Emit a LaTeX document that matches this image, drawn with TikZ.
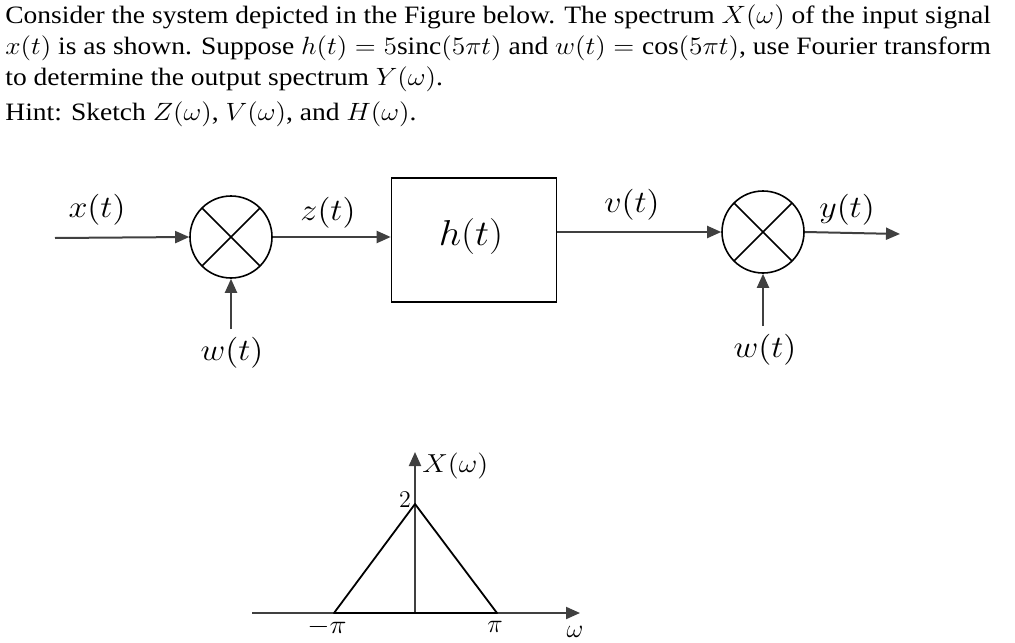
\RequirePackage{fix-cm}
\documentclass[tikz,border=0pt]{standalone}
\usepackage{fontspec}
\setmainfont{Liberation Serif}
\newfontfamily\questfont{Liberation Serif}
\usetikzlibrary{arrows.meta,positioning}
\newcommand{\widen}[1]{\scalebox{1.1}[1]{#1}}

\begin{document}
\begin{tikzpicture}[x=0.5pt,y=-0.5pt,
  sig/.style={draw=black!75,line width=1pt,-{Triangle[length=7pt,width=6pt]}},
  mult/.style={circle,draw,line width=0.8pt,minimum size=41pt,inner sep=0pt,
    path picture={\draw[line width=0.8pt] (path picture bounding box.north west) -- (path picture bounding box.south east)
      (path picture bounding box.north east) -- (path picture bounding box.south west);}},
  lbl/.style={inner sep=1pt,font=\fontsize{15.5}{17}\selectfont},
  qline/.style={anchor=base west,inner sep=0pt,font=\questfont\fontsize{12.5}{15}\selectfont}]

\useasboundingbox (0,0) rectangle (1015,642);

% question text
\node[qline] (q1) at (5,24) {\widen{Consider the system depicted in the Figure below. The spectrum $X(\omega)$ of the input signal}};
\node[qline] (q2) at (5,55) {\widen{$x(t)$ is as shown. Suppose $h(t)=5\mathrm{sinc}(5\pi t)$ and $w(t)=\cos(5\pi t)$, use Fourier transform}};
\node[qline] (q3) at (5,86) {\widen{to determine the output spectrum $Y(\omega)$.}};
\node[qline] (q4) at (5,120) {\widen{Hint: Sketch $Z(\omega)$, $V(\omega)$, and $H(\omega)$.}};

% Nodes
\coordinate (xin) at (55,238);
\node[mult] (m1) at (231,237) {};
\node[draw,line width=0.8pt,minimum width=82.5pt,minimum height=62pt] (hbox) at (474,240) {};
\node[font=\fontsize{18}{20}\selectfont] (hlbl) at (471,236) {\widen{$h(t)$}};
\node[mult] (m2) at (763,232) {};
\coordinate (yout) at (900,234);

\node[lbl] (xlbl) at (97,210) {\widen{$x(t)$}};
\node[lbl] (zlbl) at (328,213) {\widen{$z(t)$}};
\node[lbl] (vlbl) at (632,205) {\widen{$v(t)$}};
\node[lbl] (ylbl) at (847,210) {\widen{$y(t)$}};
\node[lbl] (w1) at (232,353) {\widen{$w(t)$}};
\node[lbl] (w2) at (765,350) {\widen{$w(t)$}};

%arcs
\path (xin) edge[sig] (m1.west);
\path (m1.east) edge[sig] (m1.east -| hbox.west);
\path (hbox.east |- m2) edge[sig] (m2.west);
\path (m2.east) edge[sig] (yout);
\path ([yshift=3pt]m1 |- w1.north) edge[sig] (m1.south);
\path ([yshift=3pt]m2 |- w2.north) edge[sig] (m2.south);

% spectrum X(w)
\coordinate (axl) at (252,613);
\coordinate (axr) at (580,613);
\coordinate (orig) at (415,613);
\coordinate (axt) at (415,452);
\coordinate (peak) at (415,504);
\coordinate (mpi) at (334,613);
\coordinate (ppi) at (497,613);

\path (axl) edge[sig] (axr);
\path (orig) edge[sig] (axt);
\draw[line width=0.9pt,line join=round] (mpi) -- (peak) -- (ppi) -- cycle;

\node[anchor=west,inner sep=0pt,font=\fontsize{13}{15}\selectfont] (Xlbl) at (422,466) {\widen{$X(\omega)$}};
\node[font=\fontsize{12}{14}\selectfont,inner sep=0pt] (two) at (405,500) {$2$};
\node[font=\fontsize{13}{15}\selectfont,inner sep=0pt] (mpilbl) at (327,627) {\widen{$-\pi$}};
\node[font=\fontsize{13}{15}\selectfont,inner sep=0pt] (ppilbl) at (495,627) {$\pi$};
\node[font=\fontsize{13}{15}\selectfont,inner sep=0pt] (wlbl) at (575,632) {$\omega$};
\end{tikzpicture}
\end{document}
